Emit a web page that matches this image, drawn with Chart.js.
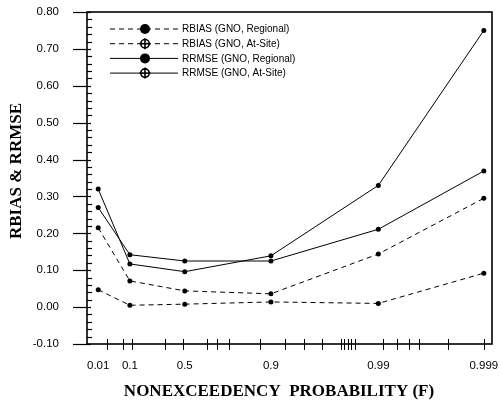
<!DOCTYPE html>
<html><head><meta charset="utf-8">
<script src="https://cdn.jsdelivr.net/npm/chart.js@4/dist/chart.umd.min.js"></script>
<style>html,body{margin:0;padding:0;background:#fff;}#wrap{width:503px;height:407px;}</style>
</head><body><div id="wrap"><canvas id="c" width="503" height="407"></canvas></div>
<script>
// ---- data ----
const probabilities = [0.01, 0.1, 0.5, 0.9, 0.99, 0.999];
const xTickLabels   = ['0.01', '0.1', '0.5', '0.9', '0.99', '0.999'];
const rbiasRegional = [0.215, 0.071, 0.044, 0.036, 0.144, 0.295];
const rbiasAtSite   = [0.047, 0.005, 0.008, 0.014, 0.010, 0.092];
const rrmseRegional = [0.270, 0.142, 0.125, 0.125, 0.211, 0.369];
const rrmseAtSite   = [0.320, 0.117, 0.096, 0.139, 0.330, 0.750];
const seriesNames = ['RBIAS (GNO, Regional)', 'RBIAS (GNO, At-Site)', 'RRMSE (GNO, Regional)', 'RRMSE (GNO, At-Site)'];
const yTicks = [-0.10, 0.00, 0.10, 0.20, 0.30, 0.40, 0.50, 0.60, 0.70, 0.80];
const xTickMarks = [0.022, 0.069, 0.11, 0.34, 0.49, 0.65, 0.71, 0.77, 0.875, 0.925, 0.95, 0.966,
                    0.9775, 0.9789, 0.9807, 0.9819, 0.9834, 0.991, 0.9934, 0.9949, 0.9959, 0.9978, 0.999];
const xAxisTitle = 'NONEXCEEDENCY  PROBABILITY (F)';
const yAxisTitle = 'RBIAS & RRMSE';

// Gumbel reduced variate probability scale
const gumbel = F => -Math.log(-Math.log(F));
const pts = vals => probabilities.map((p, i) => ({ x: gumbel(p), y: vals[i] }));

const yMinor = [];
for (let k = -5; k <= 40; k++) { if (k % 5 !== 0) yMinor.push(k * 0.02); }

const DASH = [5, 4];
const datasets = [
  { label: seriesNames[0], data: pts(rbiasRegional), borderDash: DASH, legendMarker: 'filled' },
  { label: seriesNames[1], data: pts(rbiasAtSite),   borderDash: DASH, legendMarker: 'cross' },
  { label: seriesNames[2], data: pts(rrmseRegional), borderDash: [],   legendMarker: 'filled' },
  { label: seriesNames[3], data: pts(rrmseAtSite),   borderDash: [],   legendMarker: 'cross' }
].map(d => Object.assign({
  borderColor: '#000', borderWidth: 1, backgroundColor: '#000',
  pointRadius: 2.5, pointBorderWidth: 0, pointBackgroundColor: '#000',
  tension: 0, fill: false
}, d));

const decor = {
  id: 'decor',
  afterDraw(chart) {
    const { ctx, chartArea: a, scales: { x, y } } = chart;
    ctx.save();
    ctx.strokeStyle = '#000';
    const line = (x1, y1, x2, y2) => { ctx.beginPath(); ctx.moveTo(x1, y1); ctx.lineTo(x2, y2); ctx.stroke(); };
    // frame
    ctx.lineWidth = 1.6;
    ctx.strokeRect(a.left, a.top, a.right - a.left, a.bottom - a.top);
    // y ticks
    ctx.lineWidth = 1.2;
    yTicks.forEach(v => { const py = Math.round(y.getPixelForValue(v)) + 0.5; line(a.left - 14, py, a.left + 4, py); });
    yMinor.forEach(v => { const py = Math.round(y.getPixelForValue(v)) + 0.5; line(a.left, py, a.left + 5, py); });
    // x ticks
    ctx.lineWidth = 1;
    xTickMarks.forEach(F => { const px = Math.round(x.getPixelForValue(gumbel(F))) + 0.5; line(px, a.bottom - 5, px, a.bottom + 6); });
    // axis titles
    ctx.fillStyle = '#000';
    ctx.font = 'bold 17px "Liberation Serif", "Times New Roman", serif';
    ctx.textAlign = 'center'; ctx.textBaseline = 'middle';
    ctx.fillText(xAxisTitle, 279, 392);
    ctx.save();
    ctx.translate(17, 171); ctx.rotate(-Math.PI / 2);
    ctx.fillText(yAxisTitle, 0, 0);
    ctx.restore();
    // legend
    ctx.font = '10px "Liberation Sans", Arial, sans-serif';
    ctx.textAlign = 'left';
    chart.data.datasets.forEach((d, i) => {
      const ly = a.top + 17 + i * 14.7;
      ctx.lineWidth = 1;
      ctx.setLineDash(d.borderDash);
      line(110, ly, 178, ly);
      ctx.setLineDash([]);
      ctx.beginPath();
      if (d.legendMarker === 'filled') {
        ctx.arc(145, ly, 5, 0, Math.PI * 2); ctx.fillStyle = '#000'; ctx.fill();
      } else {
        ctx.arc(145, ly, 4.2, 0, Math.PI * 2); ctx.fillStyle = '#fff'; ctx.fill();
        ctx.lineWidth = 1.6; ctx.stroke();
        line(145, ly - 5.5, 145, ly + 5.5); line(139.5, ly, 150.5, ly);
      }
      ctx.fillStyle = '#000';
      ctx.fillText(d.label, 182, ly + 0.5);
    });
    ctx.restore();
  }
};

new Chart(document.getElementById('c'), {
  type: 'line',
  data: { datasets },
  plugins: [decor],
  options: {
    responsive: false, animation: false,
    layout: { padding: { left: 0, right: 11, top: 12, bottom: 0 } },
    plugins: { legend: { display: false }, tooltip: { enabled: false } },
    scales: {
      x: {
        type: 'linear', min: -1.772, max: 7.086,
        grid: { display: false }, border: { display: false },
        afterBuildTicks: s => { s.ticks = probabilities.map(p => ({ value: gumbel(p) })); },
        ticks: { autoSkip: false, maxRotation: 0, padding: 7, color: '#000',
          font: { family: '"Liberation Sans", Arial, sans-serif', size: 11.5 },
          callback: (v, i) => xTickLabels[i] },
        afterFit: s => { s.height = 63; s.paddingLeft = 0; s.paddingRight = 0; }
      },
      y: {
        type: 'linear', min: -0.1, max: 0.8,
        grid: { display: false }, border: { display: false },
        afterBuildTicks: s => { s.ticks = yTicks.map(v => ({ value: v })); },
        ticks: { padding: 20, color: '#000',
          font: { family: '"Liberation Sans", Arial, sans-serif', size: 11.5 },
          callback: v => v.toFixed(2) },
        afterFit: s => { s.width = 87; s.paddingTop = 0; s.paddingBottom = 0; }
      }
    }
  }
});
</script>
</body></html>
